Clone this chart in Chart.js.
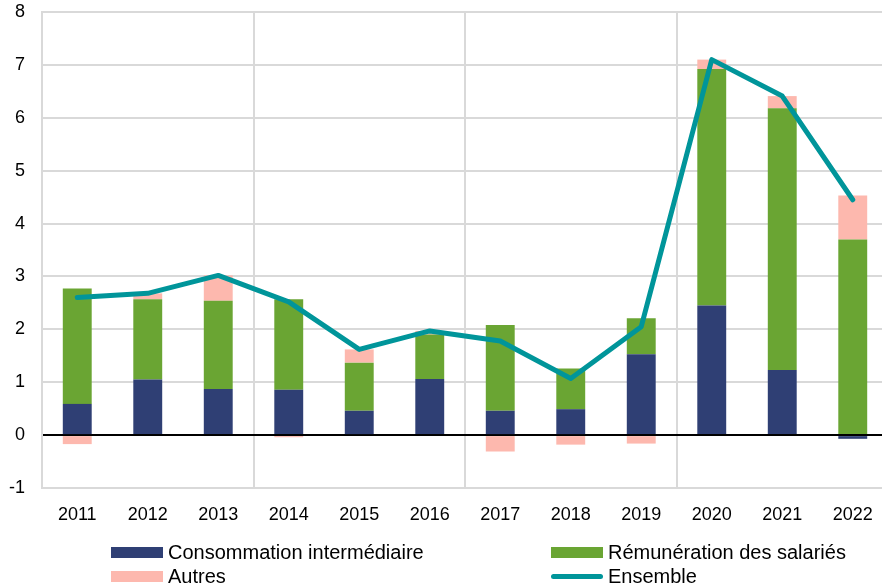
<!DOCTYPE html>
<html>
<head>
<meta charset="utf-8">
<script src="https://cdn.jsdelivr.net/npm/chart.js@4"></script>
<style>
  html, body { margin: 0; padding: 0; background: #fff; overflow: hidden; }
  #wrap { position: relative; width: 888px; height: 530px; }
  .legend { position: absolute; left: 0; top: 0; width: 882px; height: 587px; pointer-events: none;
            font-family: "Liberation Sans", Arial, sans-serif; font-size: 20px; color: #000; }
  .legend div { position: absolute; white-space: nowrap; display: flex; align-items: center; }
  .legend span.sw { display: inline-block; width: 52px; height: 11px; margin-right: 5px; }
  .legend span.ln { display: inline-block; width: 52px; height: 5px; border-radius: 3px; margin-right: 5px; }
</style>
</head>
<body>
<div id="wrap"><canvas id="chart" width="888" height="530"></canvas></div>
<div class="legend" id="legend"></div>
<script>
// Years
const years = ["2011", "2012", "2013", "2014", "2015", "2016", "2017", "2018", "2019", "2020", "2021", "2022"];

// Contributions (points)
const consommation = [0.59, 1.05, 0.87, 0.86, 0.46, 1.06, 0.46, 0.49, 1.53, 2.45, 1.23, -0.07];
const remuneration = [2.18, 1.52, 1.67, 1.71, 0.91, 0.84, 1.62, 0.77, 0.68, 4.47, 4.95, 3.70];
const autres = [-0.17, 0.11, 0.48, -0.04, 0.25, 0.07, -0.31, -0.18, -0.16, 0.18, 0.23, 0.83];
const ensemble = [2.60, 2.68, 3.02, 2.52, 1.62, 1.97, 1.78, 1.07, 2.05, 7.10, 6.41, 4.45];

const colors = {
  conso: "#2F3F74",
  remu: "#6AA533",
  autres: "#FDB8AE",
  ensemble: "#00959A"
};

const font = { family: "'Liberation Sans', Arial, sans-serif", size: 18 };

const ctx = document.getElementById("chart").getContext("2d");
const chart = new Chart(ctx, {
  type: "bar",
  data: {
    labels: years,
    datasets: [
      { label: "Ensemble", type: "line", data: ensemble, borderColor: colors.ensemble, borderWidth: 5,
        pointRadius: 0, tension: 0, borderCapStyle: "round", borderJoinStyle: "round", stack: "line", order: 0, fill: false },
      { label: "Consommation intermédiaire", data: consommation, backgroundColor: colors.conso, stack: "s", order: 1 },
      { label: "Rémunération des salariés", data: remuneration, backgroundColor: colors.remu, stack: "s", order: 1 },
      { label: "Autres", data: autres, backgroundColor: colors.autres, stack: "s", order: 1 }
    ]
  },
  options: {
    responsive: false,
    animation: false,
    devicePixelRatio: 1,
    layout: { padding: { top: 12, right: 0, bottom: 0, left: 0 } },
    datasets: { bar: { categoryPercentage: 1, barPercentage: 0.41, borderWidth: 0 } },
    plugins: { legend: { display: false }, tooltip: { enabled: false } },
    scales: {
      x: {
        stacked: true,
        offset: true,
        grid: {
          offset: true,
          drawTicks: false,
          color: c => (c.index % 3 === 0 && c.index > 0 && c.index < 12) ? "#D9D9D9" : "rgba(0,0,0,0)",
          lineWidth: 2
        },
        border: { display: true, color: "#D9D9D9", width: 2 },
        ticks: { font: font, color: "#000", padding: 16, maxRotation: 0 },
        afterFit: s => { s.height = 42; s.paddingLeft = 0; s.paddingRight = 0; }
      },
      y: {
        stacked: true,
        min: -1,
        max: 8,
        grid: {
          drawTicks: false,
          color: c => c.tick && c.tick.value === 0 ? "#000" : "#D9D9D9",
          lineWidth: 2
        },
        border: { display: true, color: "#D9D9D9", width: 2 },
        ticks: { stepSize: 1, font: font, color: "#000", padding: 17 },
        afterFit: s => { s.width = 42; s.paddingTop = 0; s.paddingBottom = 0; }
      }
    }
  }
});

// Legend in two columns below the chart
const legendItems = [
  { text: "Consommation intermédiaire", color: colors.conso, kind: "sw", x: 111, y: 552 },
  { text: "Rémunération des salariés", color: colors.remu, kind: "sw", x: 551, y: 552 },
  { text: "Autres", color: colors.autres, kind: "sw", x: 111, y: 576 },
  { text: "Ensemble", color: colors.ensemble, kind: "ln", x: 551, y: 576 }
];
const legend = document.getElementById("legend");
legendItems.forEach(item => {
  const d = document.createElement("div");
  d.style.left = item.x + "px";
  d.style.top = (item.y - 12) + "px";
  d.style.height = "24px";
  d.innerHTML = `<span class="${item.kind}" style="background:${item.color}"></span>${item.text}`;
  legend.appendChild(d);
});
</script>
</body>
</html>
